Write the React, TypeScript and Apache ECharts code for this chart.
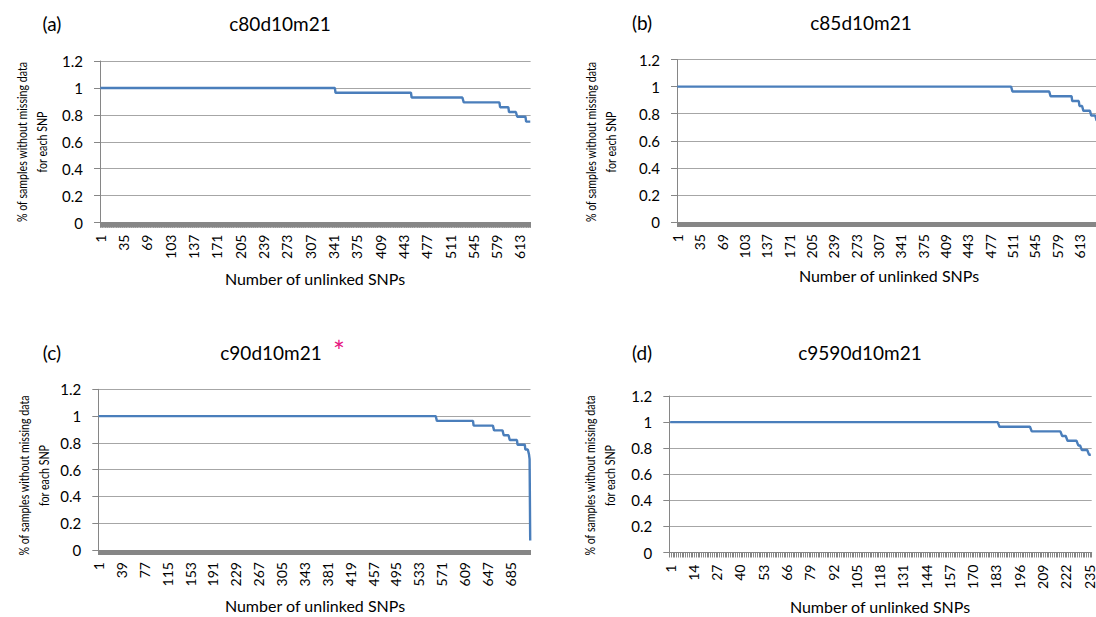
import React, { useEffect, useRef } from "react";
import * as echarts from "echarts";

const FONT = "Lato, 'Open Sans', sans-serif";
const TEXT = "#000000";
const AXIS = "#868686";
const GRIDC = "#a6a6a6";
const LINE = "#4a7ebb";

// Step levels (share of samples without missing data) and how many consecutive SNPs sit on each level
const aLevels = [1, 0.964, 0.929, 0.893, 0.857, 0.821, 0.786, 0.75];
const aRuns = [343, 111, 76, 53, 13, 12, 13, 7];

const bLevels = [1, 0.964, 0.929, 0.893, 0.857, 0.821, 0.786, 0.75];
const bRuns = [510, 58, 33, 11, 6, 12, 8, 7];

const cLevels = [1, 0.964, 0.929, 0.893, 0.857, 0.821, 0.786, 0.75, 0.714, 0.679, 0.071];
const cRuns = [562, 61, 34, 16, 10, 13, 13, 6, 1, 1, 1];

const dLevels = [1, 0.964, 0.929, 0.893, 0.857, 0.821, 0.786, 0.75];
const dRuns = [184, 18, 17, 3, 6, 2, 4, 2];

// x tick label step for each panel
const labelSteps = [34, 34, 38, 13];
const panelTags = ["(a)", "(b)", "(c)", "(d)"];
const panelTitles = ["c80d10m21", "c85d10m21", "c90d10m21", "c9590d10m21"];
const xTitle = "Number of unlinked SNPs";
const yTitle = "% of samples without missing data\nfor each SNP";

function expand(levels: number[], runs: number[]): number[] {
  const out: number[] = [];
  levels.forEach((v, i) => {
    for (let k = 0; k < runs[i]; k++) out.push(v);
  });
  return out;
}

const seriesData = [
  expand(aLevels, aRuns),
  expand(bLevels, bRuns),
  expand(cLevels, cRuns),
  expand(dLevels, dRuns),
];

const layout = [
  { grid: { left: 100, top: 61, width: 430.6, height: 161.6 }, tag: [52, 23], title: [280, 23], yt: [31.8, 142], xt: [315, 278] },
  { grid: { left: 677, top: 59.5, width: 423.8, height: 162.5 }, tag: [642, 22], title: [861, 22], yt: [601.3, 142], xt: [889, 275] },
  { grid: { left: 98.3, top: 389.3, width: 432.2, height: 160.7 }, tag: [52, 352], title: [271, 352], yt: [33.6, 475.5], xt: [315, 605] },
  { grid: { left: 669.3, top: 396, width: 422.4, height: 156.5 }, tag: [642, 352], title: [860, 352], yt: [600, 475.5], xt: [880, 606] },
];

export default function App() {
  const ref = useRef<HTMLDivElement>(null);
  useEffect(() => {
    if (!ref.current) return;
    const chart = echarts.init(ref.current, undefined, { renderer: "svg" });
    const graphic: any[] = [];
    layout.forEach((L, i) => {
      graphic.push({
        type: "text", x: L.tag[0], y: L.tag[1], silent: true,
        style: { text: panelTags[i], fontSize: 19, fontFamily: FONT, fill: TEXT, align: "center", verticalAlign: "middle", textAlign: "center", textVerticalAlign: "middle" },
      });
      graphic.push({
        type: "text", x: L.title[0], y: L.title[1], silent: true,
        style: { text: panelTitles[i], fontSize: 19, fontFamily: FONT, fill: TEXT, align: "center", verticalAlign: "middle", textAlign: "center", textVerticalAlign: "middle" },
      });
      graphic.push({
        type: "text", x: L.xt[0], y: L.xt[1], silent: true,
        style: { text: xTitle, fontSize: 16, fontFamily: FONT, fill: TEXT, align: "center", verticalAlign: "middle", textAlign: "center", textVerticalAlign: "middle" },
      });
      graphic.push({
        type: "text", x: L.yt[0], y: L.yt[1], rotation: Math.PI / 2, scaleX: 0.82, silent: true,
        style: { text: yTitle, fontSize: 13, lineHeight: 20, fontFamily: FONT, fill: TEXT, align: "center", verticalAlign: "middle", textAlign: "center", textVerticalAlign: "middle" },
      });
    });
    graphic.push({
      type: "text", x: 339, y: 351, silent: true,
      style: { text: "*", fontSize: 28, fontFamily: FONT, fill: "#e6157f", align: "center", verticalAlign: "middle", textAlign: "center", textVerticalAlign: "middle" },
    });

    const option: any = {
      animation: false,
      grid: layout.map((L) => ({ ...L.grid, containLabel: false, outerBoundsMode: "none" })),
      xAxis: seriesData.map((d, i) => ({
        type: "category",
        gridIndex: i,
        data: d.map((_, k) => String(k + 1)),
        boundaryGap: true,
        axisLine: { show: true, lineStyle: { color: AXIS, width: 1 } },
        axisTick: { show: true, interval: 0, length: 5, lineStyle: { color: AXIS, width: 1 } },
        axisLabel: { interval: labelSteps[i] - 1, rotate: 90, margin: 12, fontSize: 14, fontFamily: FONT, color: TEXT },
        splitLine: { show: false },
      })),
      yAxis: seriesData.map((_, i) => ({
        type: "value",
        gridIndex: i,
        min: 0,
        max: 1.2,
        interval: 0.2,
        axisLine: { show: true, lineStyle: { color: AXIS, width: 1 } },
        axisTick: { show: true, length: 6, lineStyle: { color: AXIS } },
        axisLabel: { margin: 17, fontSize: 15, fontFamily: FONT, color: TEXT },
        splitLine: { show: true, lineStyle: { color: GRIDC, width: 1 } },
      })),
      series: seriesData.map((d, i) => ({
        type: "line",
        xAxisIndex: i,
        yAxisIndex: i,
        data: d,
        symbol: "none",
        showSymbol: false,
        silent: true,
        lineStyle: { color: LINE, width: 2.4 },
        itemStyle: { color: LINE },
      })),
      graphic,
    };
    chart.setOption(option);
    return () => chart.dispose();
  }, []);
  return (
    <div
      ref={ref}
      style={{ position: "absolute", left: 0, top: 0, width: 1096, height: 617, background: "#fff", overflow: "hidden" }}
    />
  );
}
